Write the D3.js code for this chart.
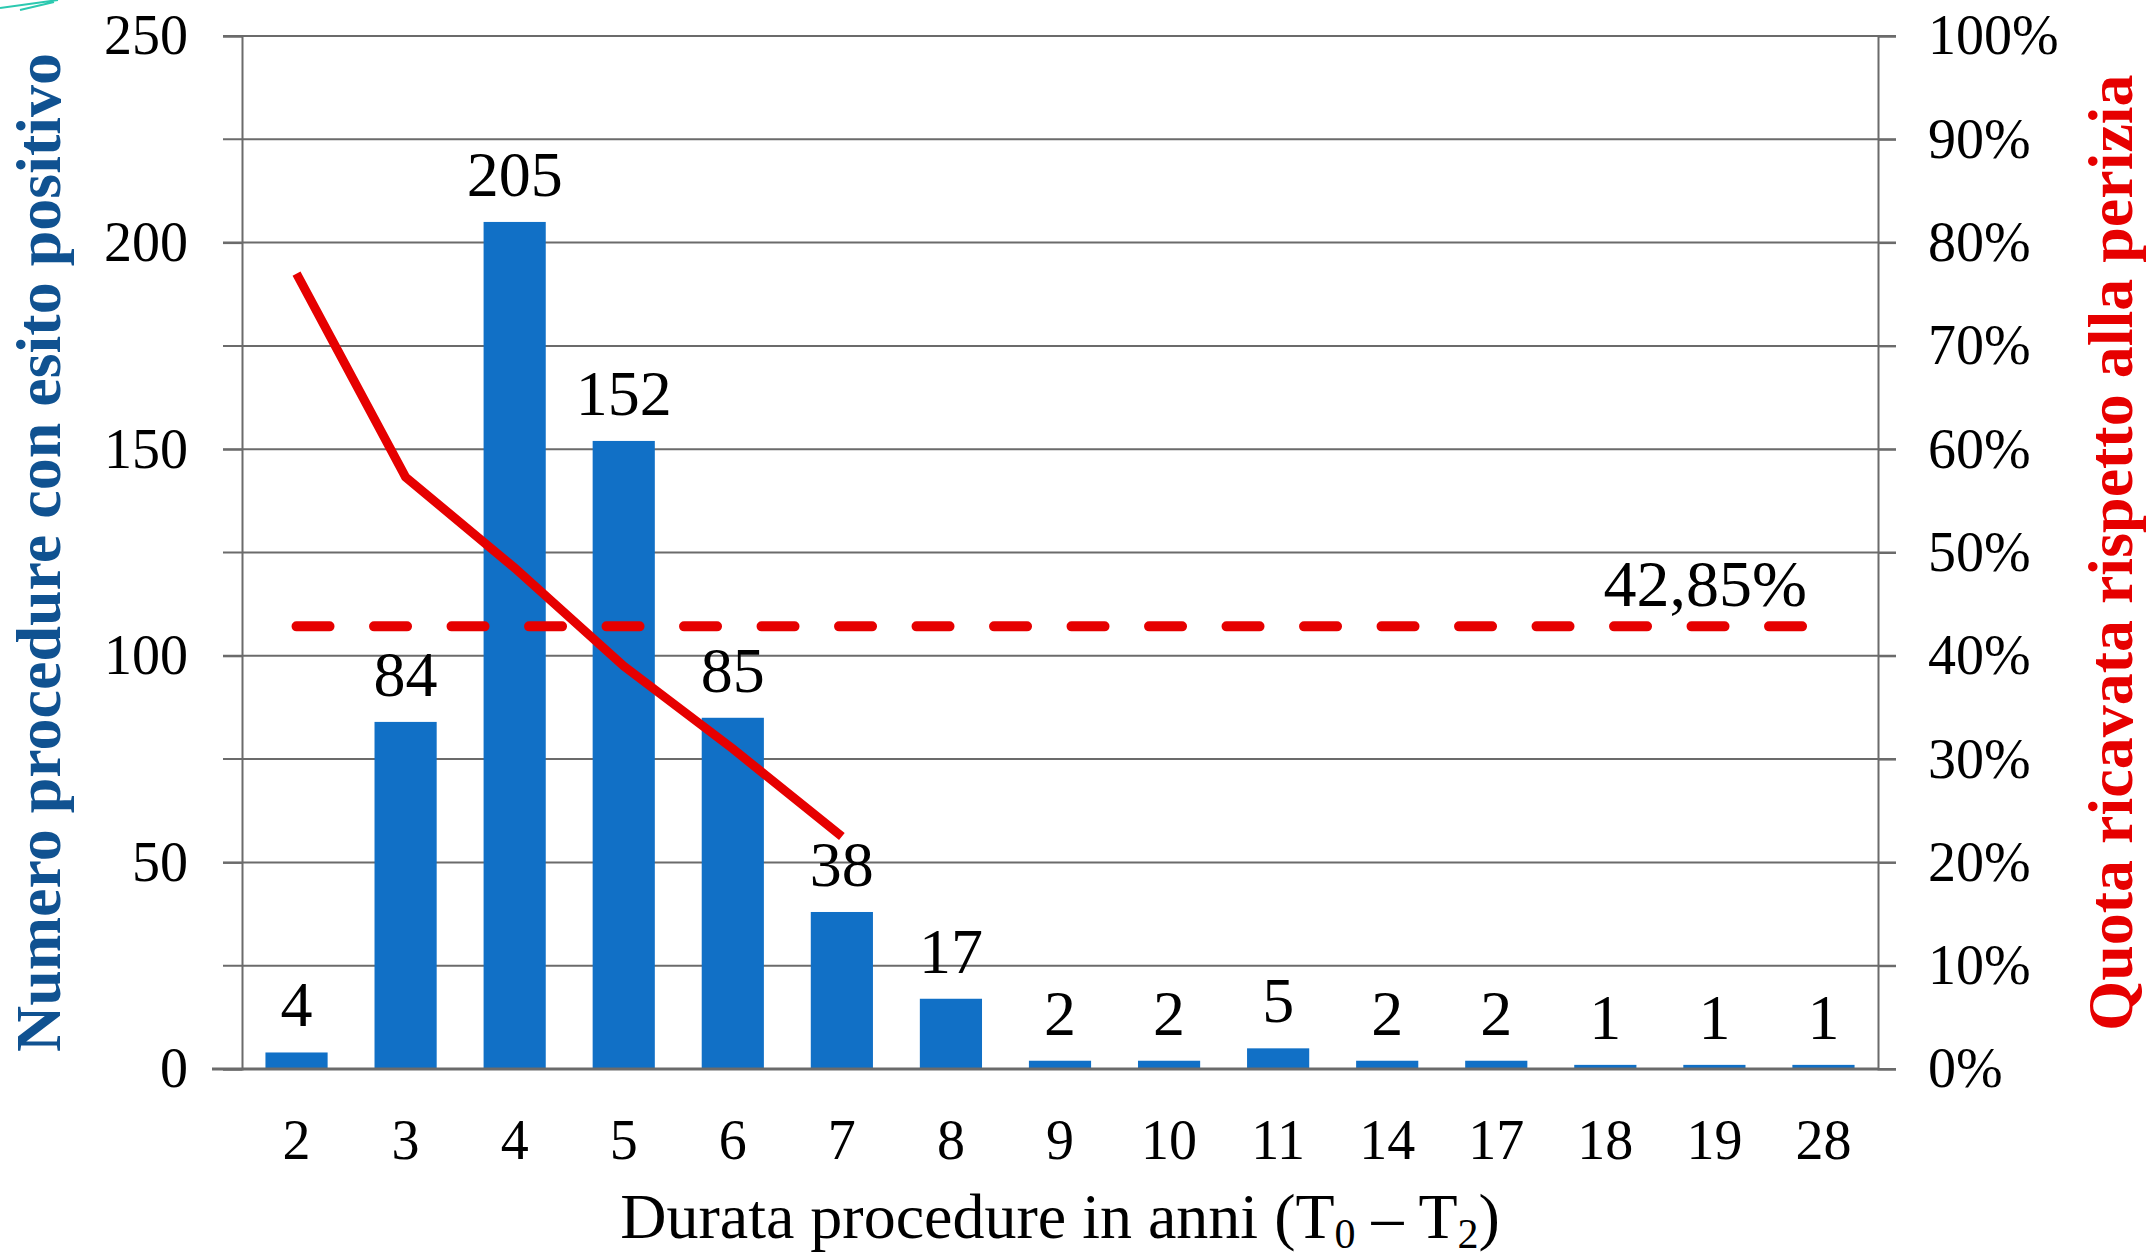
<!DOCTYPE html>
<html>
<head>
<meta charset="utf-8">
<script src="https://cdn.jsdelivr.net/npm/d3@7"></script>
<style>
  body { margin: 0; background: #fff; }
  svg text { font-family: "Liberation Serif", "Times New Roman", serif; }
</style>
</head>
<body>
<svg id="chart"></svg>
<script>
const categories = ['2', '3', '4', '5', '6', '7', '8', '9', '10', '11', '14', '17', '18', '19', '28'];
const counts = [4, 84, 205, 152, 85, 38, 17, 2, 2, 5, 2, 2, 1, 1, 1];
// quota ricavata (solo fino a 7 anni)
const quota = [0.77, 0.573, 0.485, 0.39, 0.31, 0.225];
const media = 0.4285;
const leftTicks = [0, 50, 100, 150, 200, 250];
const rightTicks = [0, 0.1, 0.2, 0.3, 0.4, 0.5, 0.6, 0.7, 0.8, 0.9, 1];

const width = 2149;
const height = 1258;
const plotLeft = 242, plotRight = 1878, plotTop = 36, plotBottom = 1069;

const svg = d3.select('#chart')
  .attr('width', width)
  .attr('height', height);

// pezzo di decorazione della slide, in alto a sinistra
svg.append('path')
  .attr('d', 'M0,8 L58,0 M20,10 L54,2')
  .attr('stroke', '#2cc9b0')
  .attr('stroke-width', 2)
  .attr('fill', 'none');

const x = d3.scaleBand()
  .domain(categories)
  .range([plotLeft, plotRight])
  .paddingInner(0.43)
  .paddingOuter(0.215);

const y = d3.scaleLinear().domain([0, 250]).range([plotBottom, plotTop]);
const y2 = d3.scaleLinear().domain([0, 1]).range([plotBottom, plotTop]);

// griglia
svg.append('g')
  .selectAll('line')
  .data(rightTicks)
  .enter()
  .append('line')
  .attr('x1', plotLeft - 19)
  .attr('x2', plotRight + 18)
  .attr('y1', d => y2(d))
  .attr('y2', d => y2(d))
  .attr('stroke', '#6b6b6b')
  .attr('stroke-width', 2);

// asse sinistro
const gLeft = svg.append('g')
  .attr('transform', `translate(${plotLeft},0)`)
  .call(d3.axisLeft(y).tickValues(leftTicks).tickSize(19).tickPadding(35));
gLeft.select('.domain').attr('stroke', '#6b6b6b').attr('stroke-width', 2);
gLeft.selectAll('.tick line').attr('stroke', '#6b6b6b').attr('stroke-width', 2);
gLeft.selectAll('text')
  .attr('font-family', '"Liberation Serif", serif')
  .attr('font-size', 56)
  .attr('fill', '#000');

// asse destro
const gRight = svg.append('g')
  .attr('transform', `translate(${plotRight},0)`)
  .call(d3.axisRight(y2).tickValues(rightTicks).tickSize(18).tickPadding(32).tickFormat(d3.format('.0%')));
gRight.select('.domain').attr('stroke', '#6b6b6b').attr('stroke-width', 2);
gRight.selectAll('.tick line').attr('stroke', '#6b6b6b').attr('stroke-width', 2);
gRight.selectAll('text')
  .attr('font-family', '"Liberation Serif", serif')
  .attr('font-size', 56)
  .attr('fill', '#000');

// barre
svg.append('g')
  .selectAll('rect')
  .data(counts)
  .enter()
  .append('rect')
  .attr('x', (d, i) => x(categories[i]))
  .attr('y', d => y(d))
  .attr('width', x.bandwidth())
  .attr('height', d => y(0) - y(d))
  .attr('fill', '#1170c6');

// asse x
const gBottom = svg.append('g')
  .attr('transform', `translate(0,${plotBottom})`)
  .call(d3.axisBottom(x).tickSize(0).tickPadding(50));
gBottom.select('.domain')
  .attr('d', `M${plotLeft - 30},0H${plotRight}`)
  .attr('stroke', '#6b6b6b')
  .attr('stroke-width', 3);
gBottom.selectAll('text')
  .attr('font-family', '"Liberation Serif", serif')
  .attr('font-size', 56)
  .attr('fill', '#000');

// etichette valori
svg.append('g')
  .selectAll('text')
  .data(counts)
  .enter()
  .append('text')
  .attr('x', (d, i) => x(categories[i]) + x.bandwidth() / 2)
  .attr('y', d => y(d) - 26)
  .attr('text-anchor', 'middle')
  .attr('font-size', 64)
  .attr('fill', '#000')
  .text(d => d);

// linea media tratteggiata
const cx = c => x(c) + x.bandwidth() / 2;
svg.append('path')
  .datum(categories)
  .attr('d', d3.line().x(d => cx(d)).y(() => y2(media)))
  .attr('fill', 'none')
  .attr('stroke', '#e60000')
  .attr('stroke-width', 10)
  .attr('stroke-linecap', 'round')
  .attr('stroke-dasharray', '33 44.5');

svg.append('text')
  .attr('x', 1807)
  .attr('y', 606)
  .attr('text-anchor', 'end')
  .attr('font-size', 66)
  .attr('fill', '#000')
  .text('42,85%');

// linea quota
svg.append('path')
  .datum(quota)
  .attr('d', d3.line().x((d, i) => cx(categories[i])).y(d => y2(d)))
  .attr('fill', 'none')
  .attr('stroke', '#e60000')
  .attr('stroke-width', 9);

// titoli
const xt = svg.append('text')
  .attr('x', (plotLeft + plotRight) / 2)
  .attr('y', 1238)
  .attr('text-anchor', 'middle')
  .attr('font-size', 64)
  .attr('fill', '#000');
xt.append('tspan').text('Durata procedure  in anni (T');
xt.append('tspan').attr('font-size', 42).attr('dy', 10).text('0');
xt.append('tspan').attr('dy', -10).text(' – T');
xt.append('tspan').attr('font-size', 42).attr('dy', 10).text('2');
xt.append('tspan').attr('dy', -10).text(')');

svg.append('text')
  .attr('transform', `translate(60,${(plotTop + plotBottom) / 2}) rotate(-90)`)
  .attr('text-anchor', 'middle')
  .attr('font-size', 64)
  .attr('font-weight', 'bold')
  .attr('fill', '#105291')
  .text('Numero procedure con esito positivo');

svg.append('text')
  .attr('transform', `translate(2132,${(plotTop + plotBottom) / 2}) rotate(-90)`)
  .attr('text-anchor', 'middle')
  .attr('font-size', 64)
  .attr('font-weight', 'bold')
  .attr('fill', '#e60000')
  .text('Quota ricavata rispetto alla perizia');
</script>
</body>
</html>
